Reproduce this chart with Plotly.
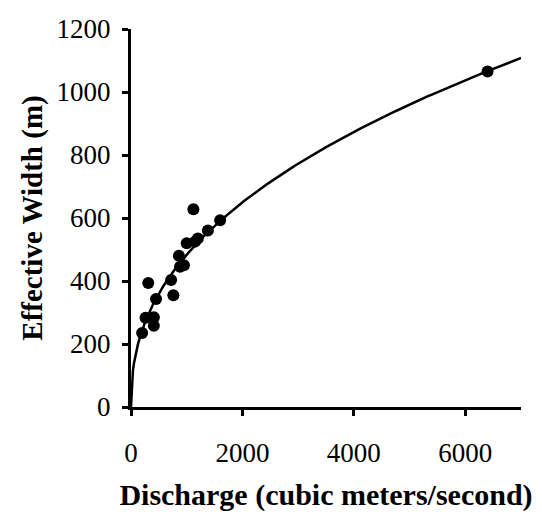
import numpy as np
import plotly.graph_objects as go

# Measured points: discharge (m^3/s) and effective width (m)
discharge = [200, 260, 410, 410, 450, 310, 720, 760, 860, 880, 950, 1000, 1150, 1200, 1380, 1600, 1120, 6400]
width = [235, 283, 285, 258, 343, 394, 403, 355, 480, 445, 450, 520, 525, 535, 560, 593, 628, 1065]

# Power-law curve drawn on the chart: W = a * Q^b
curve_a = 25.5
curve_b = 0.426
q_curve = np.linspace(0, 7000, 400)
w_curve = curve_a * q_curve ** curve_b

serif = "Liberation Serif"

fig = go.Figure()
fig.add_trace(go.Scatter(
    x=q_curve, y=w_curve, mode="lines",
    line=dict(color="black", width=2.5),
    hoverinfo="skip",
))
fig.add_trace(go.Scatter(
    x=discharge, y=width, mode="markers",
    marker=dict(color="black", size=12),
))

axis_common = dict(
    showgrid=False,
    zeroline=False,
    showline=True,
    linecolor="black",
    linewidth=3,
    ticks="outside",
    ticklen=6,
    tickwidth=2.5,
    tickcolor="black",
    tickfont=dict(family=serif, size=27, color="black"),
    automargin=False,
)

fig.update_layout(
    width=542,
    height=514,
    margin=dict(l=131, r=21, t=29, b=107),
    paper_bgcolor="white",
    plot_bgcolor="white",
    showlegend=False,
    xaxis=dict(
        range=[0, 7000],
        tickvals=[0, 2000, 4000, 6000],
        ticklabelstandoff=14,
        title=dict(text="<b>Discharge (cubic meters/second)</b>",
                   font=dict(family=serif, size=30, color="black"), standoff=17),
        **axis_common,
    ),
    yaxis=dict(
        range=[0, 1200],
        tickvals=[0, 200, 400, 600, 800, 1000, 1200],
        ticklabelstandoff=6,
        title=dict(text="<b>Effective Width (m)</b>",
                   font=dict(family=serif, size=29, color="black"), standoff=6),
        **axis_common,
    ),
)

# drop the default body margin so the figure sits flush in the window
fig.write_html("out.html", config={"displayModeBar": False},
               post_script="document.body.style.margin='0';")
